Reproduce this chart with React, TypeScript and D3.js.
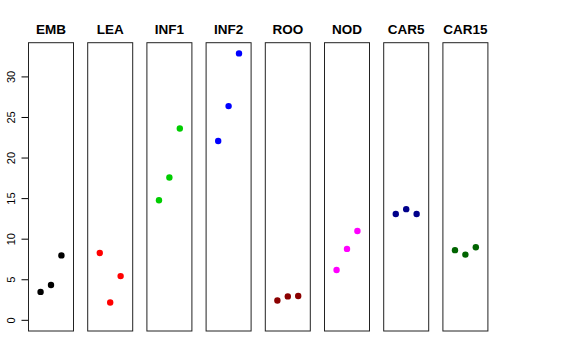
import React from "react";
import * as d3 from "d3";

const categories = ["EMB", "LEA", "INF1", "INF2", "ROO", "NOD", "CAR5", "CAR15"];
const colors = ["#000000", "#FF0000", "#00CD00", "#0000FF", "#8B0000", "#FF00FF", "#00008B", "#006400"];
const values: number[][] = [
  [3.5, 4.35, 8.0],
  [8.3, 2.2, 5.45],
  [14.8, 17.6, 23.65],
  [22.1, 26.4, 32.9],
  [2.45, 2.95, 3.0],
  [6.2, 8.8, 11.0],
  [13.1, 13.7, 13.1],
  [8.65, 8.1, 9.0],
];
const yTicks = [0, 5, 10, 15, 20, 25, 30];

export default function App() {
  const width = 576;
  const height = 360;
  const top = 42.7;
  const bottom = 331;
  const panelLeft0 = 28.5;
  const panelStep = 59.2;
  const panelW = 45;
  const yMax = 32.9;
  const ext = yMax * 0.04;
  const y = d3.scaleLinear().domain([-ext, yMax + ext]).range([bottom, top]);
  const x = d3.scaleLinear().domain([-0.16, 4.16]).range([0, panelW]);

  return (
    <svg width={width} height={height} style={{ position: "absolute", left: 0, top: 0, background: "#fff" }}
      fontFamily="Liberation Sans, Arial, sans-serif">
      <rect width={width} height={height} fill="#fff" />
      {/* y axis */}
      <g>
        <line x1={panelLeft0} x2={panelLeft0} y1={y(0)} y2={y(30)} stroke="#000" />
        {yTicks.map((t) => (
          <g key={t}>
            <line x1={panelLeft0 - 7} x2={panelLeft0} y1={y(t)} y2={y(t)} stroke="#000" />
            <text transform={`translate(${panelLeft0 - 14},${y(t)}) rotate(-90)`} textAnchor="middle"
              fontSize={11} fill="#000">{t}</text>
          </g>
        ))}
      </g>
      {categories.map((c, i) => {
        const left = panelLeft0 + i * panelStep;
        return (
          <g key={c} transform={`translate(${left},0)`}>
            <text x={panelW / 2} y={33.5} textAnchor="middle" fontWeight="bold" fontSize={13.5} fill="#000">{c}</text>
            <rect x={0} y={top} width={panelW} height={bottom - top} fill="none" stroke="#222" strokeWidth={1} />
            {values[i].map((v, j) => (
              <circle key={j} cx={x(j + 1)} cy={y(v)} r={3.2} fill={colors[i]} />
            ))}
          </g>
        );
      })}
    </svg>
  );
}
